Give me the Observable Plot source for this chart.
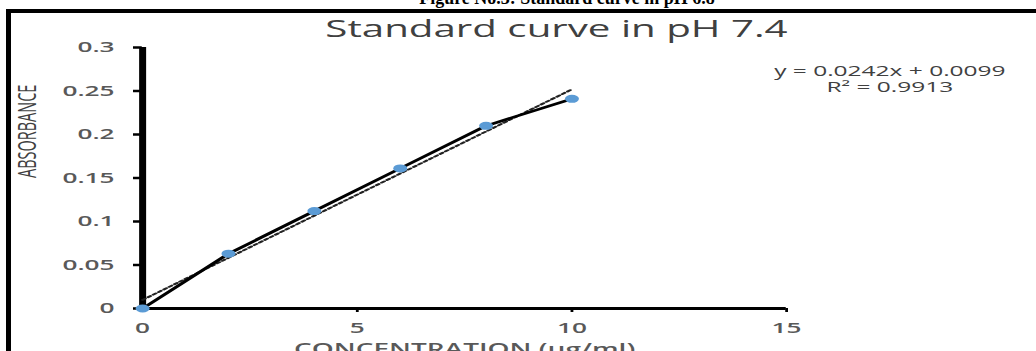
<!DOCTYPE html>
<html>
<head>
<meta charset="utf-8">
<script src="https://cdn.jsdelivr.net/npm/d3@7"></script>
<script src="https://cdn.jsdelivr.net/npm/@observablehq/plot@0.6"></script>
<style>
  html, body { margin: 0; padding: 0; background: #fff; overflow: hidden; width: 1036px; height: 351px; }
  #caption { position: absolute; left: 0; top: -11.5px; width: 1134px; text-align: center;
             font: bold 18px/18px "Liberation Serif", "Times New Roman", serif; color: #000; white-space: nowrap; }
  #frame { position: absolute; left: 6px; top: 9px; width: 2000px; height: 2000px;
           border-left: 5px solid #000; border-top: 4px solid #000; }
  #chart { position: absolute; left: 0; top: 0; transform-origin: 0 0; }
  #title { position: absolute; left: 0; top: 16.6px; width: 636px; text-align: center;
           font: 500 23px/23px "Open Sans", sans-serif; color: #404040; white-space: nowrap; }
  #plot { position: absolute; left: 0; top: 0; }
</style>
</head>
<body>
<div id="caption"></div>
<div id="frame"></div>
<div id="chart"><div id="plot"></div><div id="title"></div></div>
<script>
// ---- data ----
const captionText = "Figure No.3: Standard curve in pH 6.8";
const chartTitle = "Standard curve in pH 7.4";
const xLabel = "CONCENTRATION (µg/ml)";
const yLabel = "ABSORBANCE";
const concentration = [0, 2, 4, 6, 8, 10];
const absorbance = [0, 0.063, 0.112, 0.161, 0.21, 0.241];
const xTicks = [0, 5, 10, 15];
const xTickLabels = ["0", "5", "10", "15"];
const yTicks = [0, 0.05, 0.1, 0.15, 0.2, 0.25, 0.3];
const yTickLabels = ["0", "0.05", "0.1", "0.15", "0.2", "0.25", "0.3"];
const trendSlope = 0.0242;
const trendIntercept = 0.0099;
const rSquared = 0.9913;
const trendRange = [0, 10];

// ---- layout (the reference picture is stretched horizontally) ----
const S = 1.75;
const W = 1036 / S;

document.getElementById("caption").textContent = captionText;
document.getElementById("title").textContent = chartTitle;
const chart = document.getElementById("chart");
chart.style.width = W + "px";
chart.style.transform = `scaleX(${S})`;

const points = concentration.map((c, i) => ({c, a: absorbance[i]}));
const trend = trendRange.map(c => ({c, a: trendSlope * c + trendIntercept}));
const equationLine = `y = ${trendSlope}x + ${trendIntercept}`;
const r2Line = `R² = ${rSquared}`;

const plot = Plot.plot({
  width: W,
  height: 351,
  marginLeft: 81,
  marginRight: W - 449,
  marginTop: 47,
  marginBottom: 43,
  style: {fontFamily: "'Open Sans', sans-serif", background: "transparent", overflow: "hidden"},
  x: {domain: [0, 15]},
  y: {domain: [0, 0.3]},
  marks: [
    Plot.axisY({ticks: yTicks, tickFormat: d => yTickLabels[yTicks.indexOf(d)], tickSize: 5, tickPadding: 11,
                stroke: "#000", strokeWidth: 2.5, fill: "#595959", fontSize: 15, fontWeight: 600, label: null}),
    Plot.axisX({ticks: xTicks, tickFormat: d => xTickLabels[xTicks.indexOf(d)], tickSize: 4, tickPadding: 10,
                stroke: "#000", strokeWidth: 1.6, fill: "#595959", fontSize: 15, fontWeight: 600, label: null}),
    Plot.ruleY([0], {stroke: "#000", strokeWidth: 3}),
    Plot.ruleX([0], {stroke: "#000", strokeWidth: 4}),
    Plot.line(trend, {x: "c", y: "a", stroke: "#222", strokeWidth: 1.8, strokeDasharray: "2,2"}),
    Plot.line(points, {x: "c", y: "a", stroke: "#000", strokeWidth: 2.5}),
    Plot.dot(points, {x: "c", y: "a", r: 4, fill: "#5b9bd5", stroke: "none"}),
    Plot.text([yLabel], {text: d => d, frameAnchor: "left", rotate: -90, dx: -71, lineAnchor: "top",
                         fontSize: 14.5, fontWeight: 500, fill: "#404040"}),
    Plot.text([xLabel], {text: d => d, frameAnchor: "bottom", dy: 35, lineAnchor: "top",
                         fontSize: 16, fontWeight: 600, fill: "#595959"}),
    Plot.text([equationLine], {text: d => d, frameAnchor: "top-right", dx: 59, dy: 24.5, textAnchor: "middle",
                               lineAnchor: "middle", fontSize: 14, fontWeight: 500, fill: "#404040"}),
    Plot.text([r2Line], {text: d => d, frameAnchor: "top-right", dx: 59, dy: 40.5, textAnchor: "middle",
                         lineAnchor: "middle", fontSize: 14, fontWeight: 500, fill: "#404040"})
  ]
});
document.getElementById("plot").appendChild(plot);
</script>
</body>
</html>
